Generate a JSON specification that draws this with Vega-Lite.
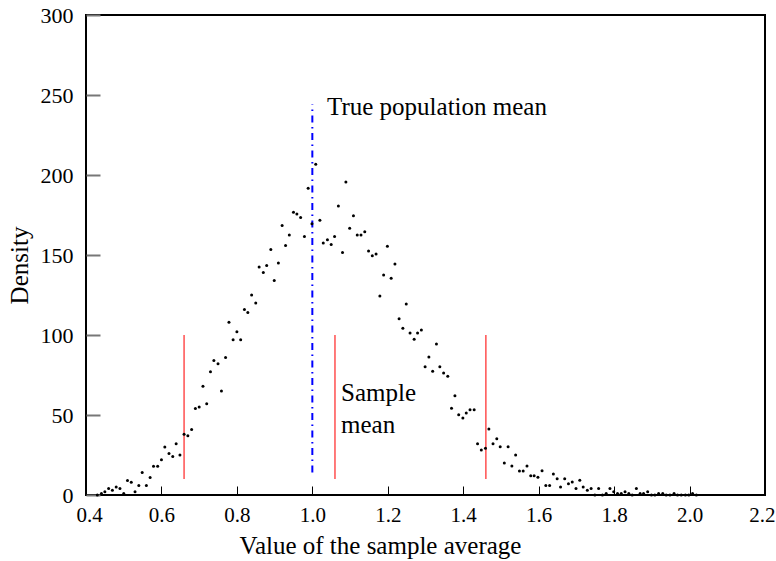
{
  "$schema": "https://vega.github.io/schema/vega-lite/v6.json",
  "autosize": {"type": "none"},
  "padding": {"left": 86, "top": 15, "right": 11, "bottom": 66},
  "width": 679,
  "height": 480,
  "background": "white",
  "config": {
    "view": {"stroke": "black", "strokeWidth": 2},
    "font": "Liberation Serif"
  },
  "datasets": {
    "dots": [
      {"x":0.430,"d":0},{"x":0.441,"d":1},{"x":0.450,"d":2},{"x":0.460,"d":4},{"x":0.470,"d":3},
      {"x":0.480,"d":5},{"x":0.490,"d":4},{"x":0.500,"d":1},{"x":0.510,"d":9},{"x":0.520,"d":8},
      {"x":0.530,"d":2},{"x":0.540,"d":6},{"x":0.549,"d":14},{"x":0.560,"d":6},{"x":0.570,"d":11},
      {"x":0.579,"d":18},{"x":0.590,"d":18},{"x":0.600,"d":22},{"x":0.609,"d":30},{"x":0.620,"d":26},
      {"x":0.630,"d":24},{"x":0.639,"d":32},{"x":0.649,"d":25},{"x":0.660,"d":38},{"x":0.670,"d":37},
      {"x":0.680,"d":41},{"x":0.690,"d":54},{"x":0.700,"d":55},{"x":0.710,"d":68},{"x":0.720,"d":57},
      {"x":0.730,"d":77},{"x":0.739,"d":84},{"x":0.750,"d":82},{"x":0.759,"d":65},{"x":0.770,"d":86},
      {"x":0.779,"d":108},{"x":0.790,"d":97},{"x":0.800,"d":102},{"x":0.810,"d":97},{"x":0.820,"d":116},
      {"x":0.829,"d":114},{"x":0.839,"d":125},{"x":0.850,"d":120},{"x":0.859,"d":142.5},{"x":0.870,"d":139},
      {"x":0.879,"d":143.5},{"x":0.890,"d":153.5},{"x":0.899,"d":134},{"x":0.910,"d":145},{"x":0.920,"d":168.5},
      {"x":0.929,"d":156},{"x":0.939,"d":162.5},{"x":0.950,"d":176.7},{"x":0.959,"d":175.6},{"x":0.969,"d":173.5},
      {"x":0.979,"d":161.5},{"x":0.989,"d":191.7},{"x":0.999,"d":169.6},{"x":1.009,"d":206.7},{"x":1.020,"d":171.7},
      {"x":1.029,"d":157.5},{"x":1.040,"d":159.6},{"x":1.050,"d":156.5},{"x":1.059,"d":161.5},{"x":1.069,"d":180.6},
      {"x":1.080,"d":151.5},{"x":1.089,"d":195.6},{"x":1.099,"d":166.7},{"x":1.109,"d":174.6},{"x":1.119,"d":162.5},
      {"x":1.129,"d":162.5},{"x":1.139,"d":164.6},{"x":1.149,"d":152.5},{"x":1.159,"d":149.6},{"x":1.169,"d":150.6},
      {"x":1.179,"d":124.4},{"x":1.189,"d":137.5},{"x":1.199,"d":155.4},{"x":1.209,"d":135.4},{"x":1.219,"d":144.4},
      {"x":1.230,"d":110.2},{"x":1.240,"d":104.2},{"x":1.249,"d":119.4},{"x":1.259,"d":101.2},{"x":1.270,"d":97.3},
      {"x":1.279,"d":101.2},{"x":1.289,"d":103.1},{"x":1.299,"d":80.2},{"x":1.309,"d":86.2},{"x":1.319,"d":77.3},
      {"x":1.329,"d":94.4},{"x":1.338,"d":80.2},{"x":1.348,"d":76.2},{"x":1.359,"d":74.2},{"x":1.369,"d":54.2},
      {"x":1.378,"d":62.1},{"x":1.388,"d":50.2},{"x":1.399,"d":48.1},{"x":1.408,"d":51.2},{"x":1.418,"d":53.3},
      {"x":1.429,"d":53.3},{"x":1.438,"d":32.1},{"x":1.448,"d":28.1},{"x":1.459,"d":29.2},{"x":1.468,"d":41.2},
      {"x":1.479,"d":32.1},{"x":1.489,"d":35.2},{"x":1.498,"d":30.2},{"x":1.509,"d":20},{"x":1.519,"d":30.2},
      {"x":1.529,"d":18.1},{"x":1.539,"d":25},{"x":1.549,"d":15},{"x":1.559,"d":15},{"x":1.569,"d":18.1},
      {"x":1.579,"d":12.1},{"x":1.588,"d":12.1},{"x":1.598,"d":11.1},{"x":1.609,"d":15.2},{"x":1.619,"d":6},
      {"x":1.629,"d":6},{"x":1.639,"d":13.1},{"x":1.649,"d":10.2},{"x":1.658,"d":5},{"x":1.669,"d":10.2},
      {"x":1.679,"d":7.1},{"x":1.689,"d":8.1},{"x":1.699,"d":4},{"x":1.709,"d":9.2},{"x":1.718,"d":5},
      {"x":1.729,"d":2.9},{"x":1.739,"d":4},{"x":1.749,"d":0},{"x":1.759,"d":4},{"x":1.769,"d":0},
      {"x":1.779,"d":1},{"x":1.789,"d":4},{"x":1.799,"d":2},{"x":1.809,"d":1},{"x":1.819,"d":1},
      {"x":1.829,"d":2},{"x":1.839,"d":1},{"x":1.848,"d":0},{"x":1.859,"d":4},{"x":1.869,"d":1},
      {"x":1.878,"d":1},{"x":1.889,"d":2},{"x":1.899,"d":0},{"x":1.908,"d":0},{"x":1.918,"d":1},
      {"x":1.929,"d":1},{"x":1.938,"d":0},{"x":1.948,"d":0},{"x":1.959,"d":1},{"x":1.968,"d":0},
      {"x":1.978,"d":0},{"x":1.989,"d":0},{"x":1.998,"d":0},{"x":2.008,"d":1},{"x":2.018,"d":0}
    ],
    "redlines": [
      {"x":0.66,"y1":10,"y2":100},{"x":1.06,"y1":10,"y2":100},{"x":1.46,"y1":10,"y2":100}
    ],
    "blueline": [{"x":1.0,"y1":14,"y2":244}],
    "labels": [
      {"x":1.039,"y":237.5,"t":"True population mean"},
      {"x":1.076,"y":58.8,"t":"Sample"},
      {"x":1.076,"y":38.8,"t":"mean"}
    ]
  },
  "encoding": {
    "x": {
      "field": "x", "type": "quantitative",
      "scale": {"domain": [0.4, 2.2], "nice": false, "zero": false},
      "axis": {
        "title": "Value of the sample average",
        "values": [0.4,0.6,0.8,1.0,1.2,1.4,1.6,1.8,2.0,2.2],
        "format": ".1f",
        "domain": false, "grid": false,
        "tickSize": -9, "tickColor": "black", "tickWidth": 1,
        "labelPadding": 18, "labelFontSize": 21, "labelColor": "black", "labelFont": "Liberation Serif",
        "labelFlush": true, "labelFlushOffset": 10, "labelOverlap": false,
        "titleFontSize": 25, "titleFont": "Liberation Serif", "titleFontWeight": "normal", "titleColor": "black",
        "titleX": 294, "titleY": 58, "titleBaseline": "alphabetic", "titleAlign": "center"
      }
    },
    "y": {
      "field": "d", "type": "quantitative",
      "scale": {"domain": [0, 300], "nice": false},
      "axis": {
        "title": "Density",
        "values": [0,50,100,150,200,250,300],
        "domain": false, "grid": false,
        "tickSize": -14, "tickColor": "#777777", "tickWidth": 2,
        "labelPadding": 27, "labelFontSize": 22, "labelColor": "black", "labelFont": "Liberation Serif",
        "labelFlush": false, "labelOverlap": false,
        "titleFontSize": 25, "titleFont": "Liberation Serif", "titleFontWeight": "normal", "titleColor": "black",
        "titleX": -59, "titleY": 250, "titleBaseline": "alphabetic", "titleAlign": "center", "titleAngle": -90
      }
    }
  },
  "layer": [
    {
      "data": {"name": "redlines"},
      "mark": {"type": "rule", "color": "#ff5a5a", "strokeWidth": 1.6},
      "encoding": {"y": {"field": "y1", "type": "quantitative"}, "y2": {"field": "y2"}}
    },
    {
      "data": {"name": "blueline"},
      "mark": {"type": "rule", "color": "#0000ff", "strokeWidth": 2, "strokeDash": [7, 4.5, 1.5, 4.5]},
      "encoding": {"y": {"field": "y1", "type": "quantitative"}, "y2": {"field": "y2"}}
    },
    {
      "data": {"name": "dots"},
      "mark": {"type": "circle", "color": "black", "opacity": 1, "size": 9, "clip": false}
    },
    {
      "data": {"name": "labels"},
      "mark": {"type": "text", "align": "left", "baseline": "alphabetic", "fontSize": 25, "font": "Liberation Serif", "color": "black"},
      "encoding": {"y": {"field": "y", "type": "quantitative"}, "text": {"field": "t"}}
    }
  ]
}
